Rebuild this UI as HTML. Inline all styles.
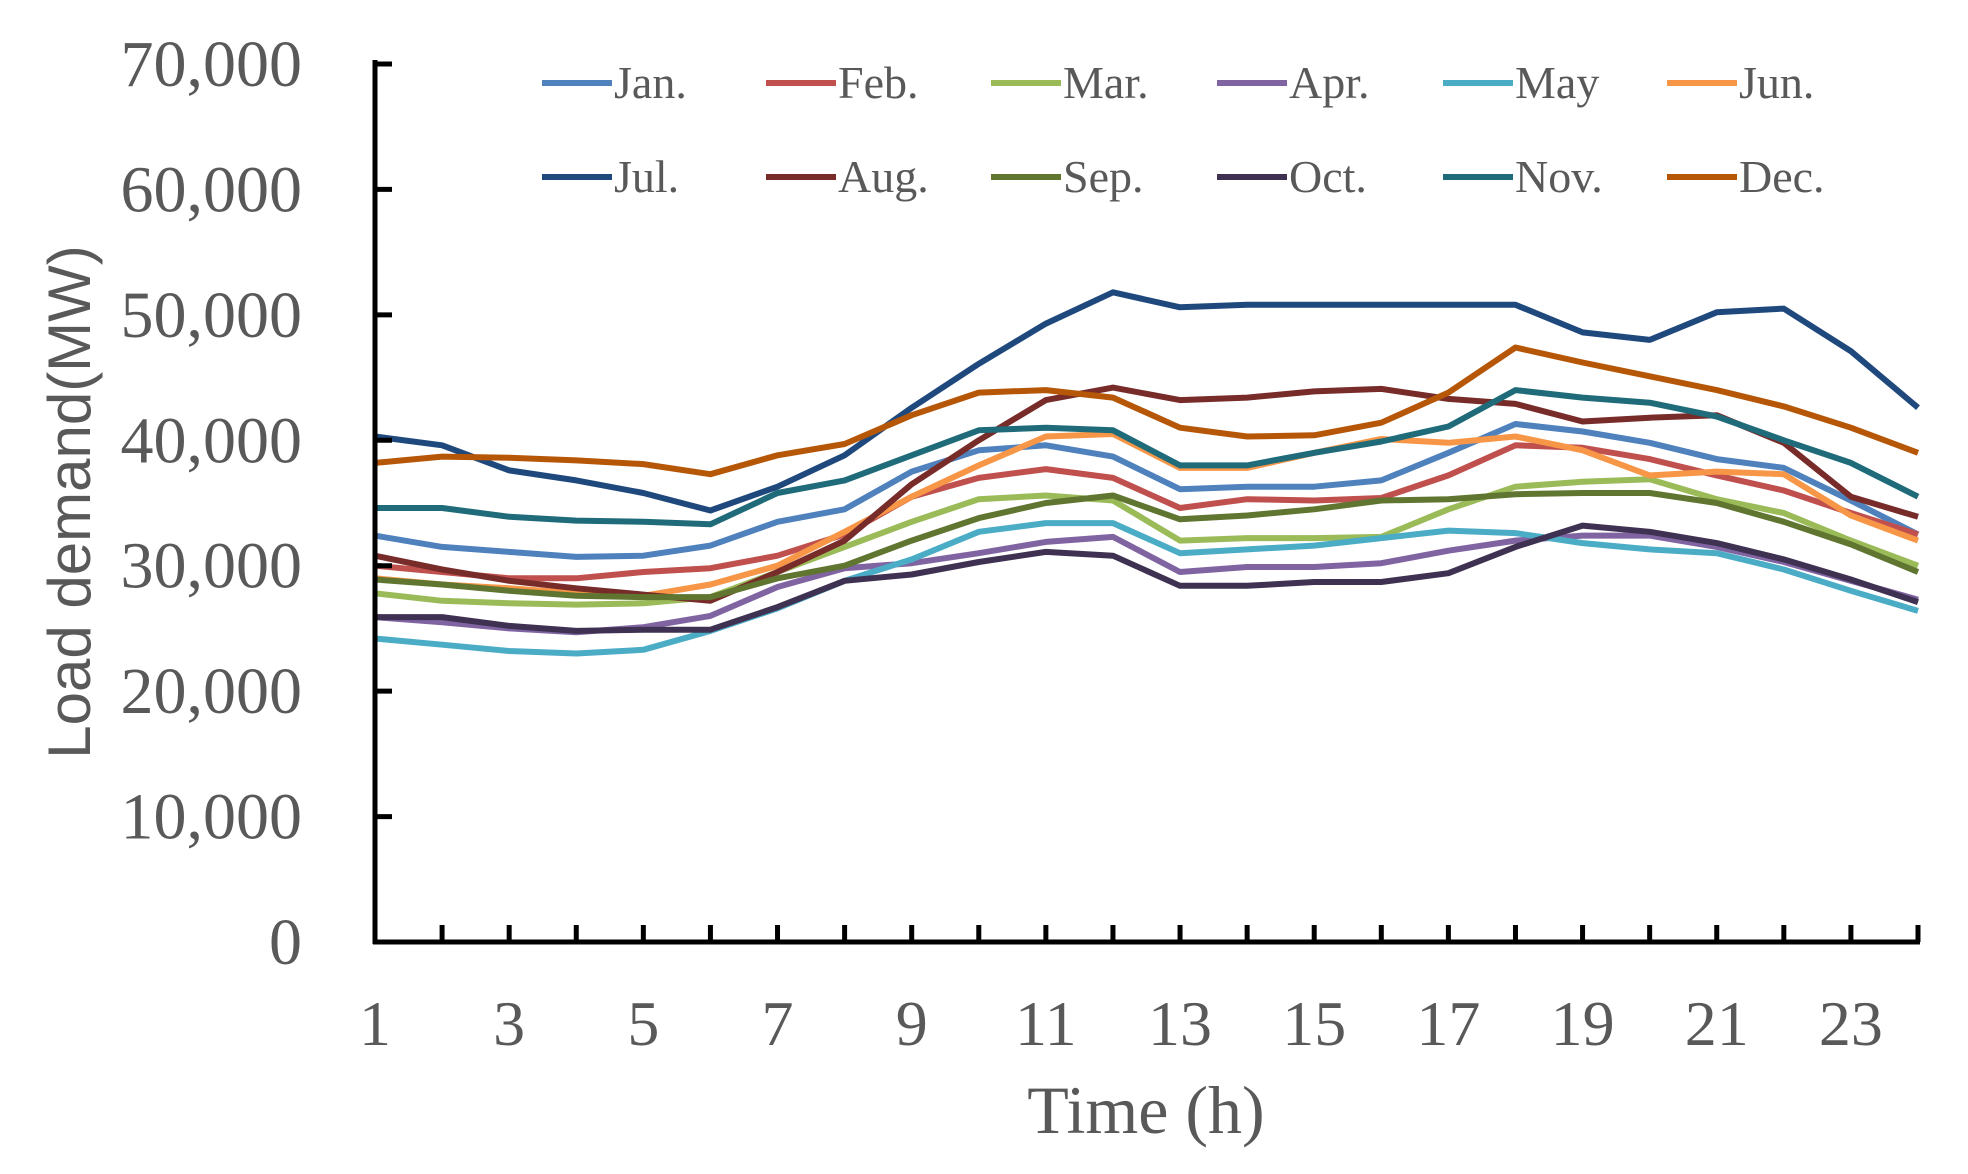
<!DOCTYPE html>
<html><head><meta charset="utf-8"><style>
html,body{margin:0;padding:0;background:#fff;}
svg{display:block;}
</style></head><body>
<svg id="chart" width="1968" height="1174" xmlns="http://www.w3.org/2000/svg"></svg>
<script>
const hours = [1,2,3,4,5,6,7,8,9,10,11,12,13,14,15,16,17,18,19,20,21,22,23,24];
const xTickLabels = [1,3,5,7,9,11,13,15,17,19,21,23];
const yTickValues = [0,10000,20000,30000,40000,50000,60000,70000];
const yTickLabels = ["0","10,000","20,000","30,000","40,000","50,000","60,000","70,000"];
const months = ["Jan.","Feb.","Mar.","Apr.","May","Jun.","Jul.","Aug.","Sep.","Oct.","Nov.","Dec."];
const colors = ["#4F81BD","#C0504D","#9BBB59","#8064A2","#4BACC6","#F79646","#1F497D","#772C2A","#5F7530","#3F3151","#1F6B7A","#B65708"];
const jan = [32.4,31.5,31.1,30.7,30.8,31.6,33.5,34.5,37.5,39.2,39.6,38.7,36.1,36.3,36.3,36.8,39.0,41.3,40.7,39.8,38.5,37.8,35.2,32.5];
const feb = [30.0,29.5,29.0,29.0,29.5,29.8,30.8,32.5,35.5,37.0,37.7,37.0,34.6,35.3,35.2,35.4,37.2,39.6,39.4,38.5,37.2,36.0,34.2,32.5];
const mar = [27.8,27.2,27.0,26.9,27.0,27.5,29.5,31.5,33.5,35.3,35.6,35.2,32.0,32.2,32.2,32.3,34.5,36.3,36.7,36.9,35.3,34.2,32.0,30.0];
const apr = [25.9,25.5,25.0,24.7,25.1,26.0,28.3,29.8,30.2,31.0,31.9,32.3,29.5,29.9,29.9,30.2,31.2,32.0,32.4,32.4,31.5,30.3,28.8,27.3];
const may = [24.2,23.7,23.2,23.0,23.3,24.8,26.6,28.8,30.5,32.7,33.4,33.4,31.0,31.3,31.6,32.2,32.8,32.6,31.8,31.3,31.0,29.7,28.0,26.4];
const jun = [29.0,28.5,28.2,27.8,27.6,28.5,30.0,32.7,35.5,38.0,40.3,40.5,37.8,37.8,39.0,40.1,39.8,40.3,39.2,37.2,37.5,37.3,34.0,32.0];
const jul = [40.3,39.6,37.6,36.8,35.8,34.4,36.3,38.8,42.6,46.1,49.3,51.8,50.6,50.8,50.8,50.8,50.8,50.8,48.6,48.0,50.2,50.5,47.1,42.6];
const aug = [30.8,29.7,28.8,28.2,27.7,27.2,29.5,32.0,36.5,40.0,43.2,44.2,43.2,43.4,43.9,44.1,43.3,42.9,41.5,41.8,42.0,39.8,35.5,33.9];
const sep = [28.9,28.5,28.0,27.6,27.5,27.5,29.0,30.0,32.0,33.8,35.0,35.6,33.7,34.0,34.5,35.2,35.3,35.7,35.8,35.8,35.0,33.5,31.7,29.5];
const oct = [25.9,25.9,25.2,24.8,24.9,24.9,26.7,28.8,29.3,30.3,31.1,30.8,28.4,28.4,28.7,28.7,29.4,31.5,33.2,32.7,31.8,30.5,28.9,27.1];
const nov = [34.6,34.6,33.9,33.6,33.5,33.3,35.8,36.8,38.8,40.8,41.0,40.8,38.0,38.0,39.0,39.9,41.1,44.0,43.4,43.0,41.9,40.0,38.2,35.5];
const dec = [38.2,38.7,38.6,38.4,38.1,37.3,38.8,39.7,42.0,43.8,44.0,43.4,41.0,40.3,40.4,41.4,43.8,47.4,46.2,45.1,44.0,42.7,41.0,39.0];
const series = [jan,feb,mar,apr,may,jun,jul,aug,sep,oct,nov,dec];

const NS = "http://www.w3.org/2000/svg";
const svg = document.getElementById("chart");
const X0 = 375, X1 = 1918, Y0 = 942, Y1 = 64;
function xs(h){ return X0 + (h - 1) * (X1 - X0) / 23; }
function ys(v){ return Y0 - v * (Y0 - Y1) / 70000; }
function mk(tag, attrs){ const e = document.createElementNS(NS, tag); for (const k in attrs) e.setAttribute(k, attrs[k]); svg.appendChild(e); return e; }

const keys = ["jan","feb","mar","apr","may","jun","jul","aug","sep","oct","nov","dec"];
series.forEach((s, i) => {
  const d = s.map((v, j) => (j ? "L" : "M") + xs(hours[j]).toFixed(1) + "," + ys(v * 1000).toFixed(1)).join(" ");
  const p = mk("path", {d: d, fill: "none", stroke: colors[i], "stroke-width": 6, "stroke-linejoin": "round"});
  
  
});

const ya = mk("line", {x1: X0, y1: Y1 - 4, x2: X0, y2: Y0 + 2, stroke: "#000", "stroke-width": 5});


const xa = mk("line", {x1: X0 - 2, y1: Y0, x2: X1 + 2, y2: Y0, stroke: "#000", "stroke-width": 5});



yTickValues.forEach((v, i) => {
  const t = mk("line", {x1: X0, y1: ys(v), x2: X0 + 17, y2: ys(v), stroke: "#000", "stroke-width": 5});
  
  
  const l = mk("text", {x: 302, y: ys(v) + 22, "text-anchor": "end", "font-family": "Liberation Serif, serif", "font-size": 66, fill: "#595959", textLength: 0});
  l.removeAttribute("textLength");
  l.textContent = yTickLabels[i];
  
  
});
hours.forEach(h => {
  if (h === 1) return;
  const t = mk("line", {x1: xs(h), y1: Y0, x2: xs(h), y2: Y0 - 17, stroke: "#000", "stroke-width": 5});
  
  
});
xTickLabels.forEach(h => {
  const l = mk("text", {x: xs(h), y: 1045, "text-anchor": "middle", "font-family": "Liberation Serif, serif", "font-size": 64, fill: "#595959"});
  l.textContent = h;
  
  
});

const xt = mk("text", {x: 1146, y: 1133, "text-anchor": "middle", "font-family": "Liberation Serif, serif", "font-size": 68, fill: "#595959"});
xt.textContent = "Time (h)";


const yt = mk("text", {x: 0, y: 0, transform: "translate(90,502) rotate(-90)", "text-anchor": "middle", "font-family": "Liberation Sans, sans-serif", "font-size": 60, fill: "#595959"});
yt.textContent = "Load demand(MW)";



const colX = [542, 766, 991, 1217, 1443, 1667];
const rowY = [83, 177];
months.forEach((m, i) => {
  const cx = colX[i % 6], cy = rowY[Math.floor(i / 6)];
  const ln = mk("line", {x1: cx, y1: cy, x2: cx + 70, y2: cy, stroke: colors[i], "stroke-width": 6});
  
  
  const tx = mk("text", {x: cx + 72, y: cy + 15, "font-family": "Liberation Serif, serif", "font-size": 46, fill: "#595959"});
  tx.textContent = m;
  
  
});
</script>
</body></html>
